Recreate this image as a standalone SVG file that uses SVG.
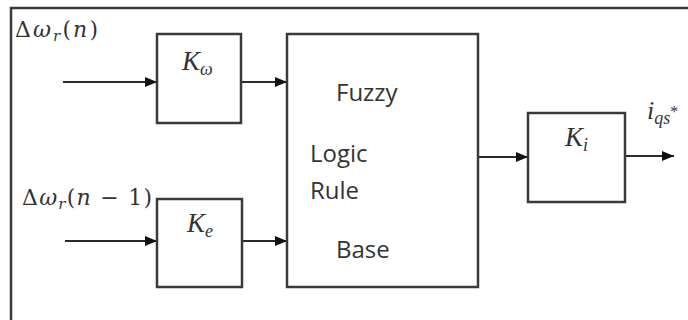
<svg xmlns="http://www.w3.org/2000/svg" width="688" height="320" viewBox="0 0 688 320">
<style>
.box{fill:#fff;stroke:#3a3a3a;stroke-width:2.5}
.ln{stroke:#2a2a2a;stroke-width:2;fill:none}
.frame{stroke:#3a3a3a;stroke-width:2.5;fill:none}
.lbl{font-family:"Open Sans","Liberation Sans",sans-serif;font-size:24px;fill:#333}
.m{font-family:"Liberation Serif","DejaVu Serif",serif;font-size:24px;fill:#333;font-style:italic}
.mu{font-family:"Liberation Serif","DejaVu Serif",serif;font-size:24px;fill:#333}
.d{font-family:"DejaVu Serif",serif;font-size:22px;fill:#333}
.di{font-family:"DejaVu Serif",serif;font-size:22px;fill:#333;font-style:italic}
.sub{font-size:16px}
</style>
<defs>
<marker id="ah" viewBox="0 0 12 10" refX="12" refY="5" markerWidth="12" markerHeight="10" markerUnits="userSpaceOnUse" orient="auto">
<path d="M0,0 L12,5 L0,10 Z" fill="#111"/>
</marker>
</defs>
<rect x="0" y="0" width="688" height="320" fill="#fff"/>
<path class="frame" d="M11,320 V8 H688"/>
<g id="connectors">
<line class="ln" x1="63" y1="82" x2="157" y2="82" marker-end="url(#ah)"/>
<line class="ln" x1="241" y1="82" x2="287" y2="82" marker-end="url(#ah)"/>
<line class="ln" x1="65" y1="241" x2="157" y2="241" marker-end="url(#ah)"/>
<line class="ln" x1="242" y1="241" x2="287" y2="241" marker-end="url(#ah)"/>
<line class="ln" x1="478" y1="157" x2="528" y2="157" marker-end="url(#ah)"/>
<line class="ln" x1="625" y1="156" x2="674" y2="156" marker-end="url(#ah)"/>
</g>
<g id="in1"><text x="15" y="37" textLength="83" lengthAdjust="spacing"><tspan class="d">Δ</tspan><tspan class="di">ω</tspan><tspan class="di" style="font-size:15px" dy="4">r</tspan><tspan class="d" dy="-4">(</tspan><tspan class="di">n</tspan><tspan class="d">)</tspan></text></g>
<g id="in2"><text x="22" y="205" textLength="130" lengthAdjust="spacing"><tspan class="d">Δ</tspan><tspan class="di">ω</tspan><tspan class="di" style="font-size:15px" dy="4">r</tspan><tspan class="d" dy="-4">(</tspan><tspan class="di">n</tspan><tspan class="d"> − 1)</tspan></text></g>
<g id="kw"><rect class="box" x="157" y="34" width="84" height="89"/><text x="182" y="70"><tspan class="m" style="font-size:27px">K</tspan><tspan class="m sub" dy="5" style="font-size:18px">ω</tspan></text></g>
<g id="ke"><rect class="box" x="157" y="199" width="85" height="88"/><text x="187" y="232"><tspan class="m" style="font-size:27px">K</tspan><tspan class="m sub" dy="5" style="font-size:18px">e</tspan></text></g>
<g id="fuzzy"><rect class="box" x="287" y="34" width="191" height="253"/>
<text class="lbl" x="336" y="101">Fuzzy</text>
<text class="lbl" x="310" y="162">Logic</text>
<text class="lbl" x="310" y="199">Rule</text>
<text class="lbl" x="336" y="258">Base</text></g>
<g id="ki"><rect class="box" x="528" y="113" width="97" height="89"/><text x="565" y="146"><tspan class="m" style="font-size:27px">K</tspan><tspan class="m sub" dy="5" style="font-size:18px">i</tspan></text></g>
<g id="out"><text x="647" y="119"><tspan class="m" style="font-size:26px">i</tspan><tspan class="m sub" dy="5" style="font-size:18px">qs</tspan><tspan class="mu sub" dy="-7">*</tspan></text></g>
</svg>
